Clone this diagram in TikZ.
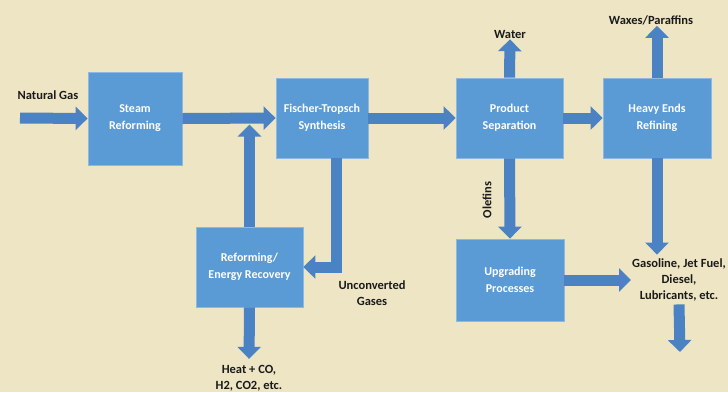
\documentclass[tikz,border=0pt]{standalone}
\usepackage{fontspec}
\setmainfont{Carlito}
\usepackage{xcolor}
\usepackage{tikz}
\usetikzlibrary{arrows.meta}
\definecolor{paper}{HTML}{EEE5C4}
\definecolor{boxblue}{HTML}{5B9BD5}
\definecolor{boxedge}{HTML}{8DB8E2}
\definecolor{flow}{HTML}{4A82C3}
\definecolor{ink}{HTML}{1A1A1A}
\tikzset{
  unit/.style={fill=boxblue, draw=boxedge, line width=0.8pt, text=white,
    font=\fontsize{12}{17}\selectfont\bfseries, align=center, inner sep=2pt},
  stream/.style={draw=flow, line width=11pt,
    -{Triangle[width=23pt,length=12pt]}},
  lab/.style={text=ink, font=\fontsize{12.5}{16}\selectfont\bfseries, align=center, inner sep=1pt},
}
\begin{document}
\begin{tikzpicture}[x=1pt,y=-1pt]
\fill[paper] (0,0) rectangle (728,392);
\useasboundingbox (0,0) rectangle (728,392);

% process units
\node[unit, minimum width=94pt, minimum height=93pt] (sr)  at (135,118.5) {Steam\\Reforming};
\node[unit, minimum width=92pt, minimum height=80pt] (ft)  at (322,118) {Fischer-Tropsch\\Synthesis};
\node[unit, minimum width=107pt, minimum height=80pt] (ps) at (509.5,118) {Product\\Separation};
\node[unit, minimum width=108pt, minimum height=80pt] (her) at (657,118) {Heavy Ends\\Refining};
\node[unit, minimum width=107pt, minimum height=80pt] (rer) at (249.5,267) {Reforming/\\Energy Recovery};
\node[unit, minimum width=108pt, minimum height=82pt] (upg) at (510,280) {Upgrading\\Processes};

% stream labels
\node[lab] (gas)    at (48,95)   {Natural Gas};
\node[lab] (water)  at (510,34)  {Water};
\node[lab] (wax)    at (651,20)  {Waxes/Paraffins};
\node[lab, rotate=90] (olef) at (487,200) {Olefins};
\node[lab] (unconv) at (372,293) {Unconverted\\Gases};
\node[lab] (heat)   at (249,378) {Heat + CO,\\H2, CO2, etc.};
\node[lab] (prod)   at (679,280) {Gasoline, Jet Fuel,\\Diesel,\\Lubricants, etc.};

\coordinate (feed) at (20,118);
\coordinate (merge) at (rer.north |- sr.east);
\coordinate (out) at (680,352);

% main line
\draw[stream] (feed) -- (sr.west);
\draw[stream] (sr.east) -- (ft.west);
\draw[stream] (ft.east) -- (ps.west);
\draw[stream] (ps.east) -- (her.west);

% recycle loop
\draw[stream] ([xshift=14pt]ft.south) |- (rer.east);
\draw[stream] (rer.north) -- ([yshift=-6pt]merge);
\draw[stream, shorten >=5pt] (rer.south) -- (heat.north);

% products
\draw[stream] (ps.north) -- (water.south);
\draw[stream] (her.north) -- (her.north |- wax.south);
\draw[stream] (ps.south) -- (upg.north);
\draw[stream, shorten >=3pt] (her.south) -- (her.south |- prod.north);
\draw[stream] (upg.east) -- (prod.west);
\draw[stream] ([yshift=-2pt]prod.south) -- (out);
\end{tikzpicture}
\end{document}
